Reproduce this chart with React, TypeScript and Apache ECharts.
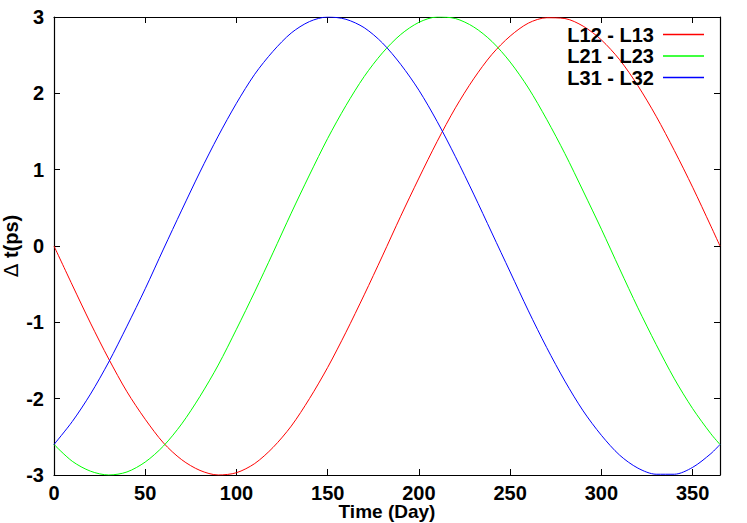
import React, { useEffect, useRef } from "react";
import * as echarts from "echarts";

const days = [0, 10, 20, 30, 40, 50, 60, 70, 80, 90, 100, 110, 120, 130, 140, 150, 160, 170, 180, 190, 200, 210, 220, 230, 240, 250, 260, 270, 280, 290, 300, 310, 320, 330, 340, 350, 360, 365];

const l12l13 = [0, -0.51, -1.01, -1.48, -1.91, -2.27, -2.58, -2.8, -2.94, -3.0, -2.97, -2.85, -2.64, -2.36, -2.0, -1.59, -1.13, -0.64, -0.13, 0.39, 0.89, 1.37, 1.81, 2.19, 2.51, 2.75, 2.92, 2.99, 2.98, 2.88, 2.7, 2.44, 2.1, 1.7, 1.25, 0.77, 0.26, 0];

const l21l23 = [-2.6, -2.82, -2.95, -3.0, -2.96, -2.83, -2.62, -2.33, -1.97, -1.56, -1.09, -0.6, -0.09, 0.43, 0.93, 1.41, 1.84, 2.22, 2.53, 2.77, 2.93, 3.0, 2.98, 2.87, 2.68, 2.41, 2.07, 1.66, 1.21, 0.72, 0.22, -0.3, -0.81, -1.29, -1.74, -2.13, -2.46, -2.6];

const l31l32 = [-2.6, -2.3, -1.94, -1.52, -1.05, -0.56, -0.04, 0.47, 0.97, 1.44, 1.87, 2.25, 2.55, 2.79, 2.94, 3.0, 2.97, 2.86, 2.66, 2.38, 2.04, 1.63, 1.17, 0.68, 0.17, -0.34, -0.85, -1.33, -1.77, -2.16, -2.48, -2.74, -2.91, -2.99, -2.99, -2.9, -2.72, -2.6];

const seriesNames = ["L12 - L13", "L21 - L23", "L31 - L32"];
const seriesColors = ["#ff0000", "#00ff00", "#0000ff"];

const FONT = "'Liberation Sans', Arial, Helvetica, sans-serif";

export default function App() {
  const ref = useRef<HTMLDivElement>(null);
  useEffect(() => {
    document.body.style.margin = "0";
    if (!ref.current) return;
    const chart = echarts.init(ref.current, undefined, { renderer: "svg" });
    const data = [l12l13, l21l23, l31l32];
    const tickStyle = { show: true, inside: true, length: 6, lineStyle: { color: "#000", width: 1 } };
    const lineStyle = { show: true, onZero: false, lineStyle: { color: "#000", width: 1.2 } };
    chart.setOption({
      animation: false,
      textStyle: { fontFamily: FONT },
      grid: { left: 54, top: 17, right: 27, bottom: 48, containLabel: false, outerBoundsMode: "none" },
      legend: {
        data: seriesNames.map((n) => ({ name: n, icon: "rect" })),
        orient: "vertical",
        right: 38,
        top: 19,
        align: "right",
        itemWidth: 41,
        itemHeight: 1.5,
        itemGap: 0.5,
        selectedMode: false,
        textStyle: { fontFamily: FONT, fontSize: 20, fontWeight: "bold", color: "#000", lineHeight: 21, padding: [0, 4, 0, 0] },
      },
      xAxis: [
        {
          type: "value",
          min: 0,
          max: 365,
          interval: 50,
          position: "bottom",
          axisLine: lineStyle,
          axisTick: tickStyle,
          splitLine: { show: false },
          axisLabel: { fontFamily: FONT, fontSize: 20, fontWeight: "bold", color: "#000", margin: 10, lineHeight: 15, showMaxLabel: false },
          name: "Time (Day)",
          nameLocation: "middle",
          nameMoveOverlap: false,
          nameGap: 28,
          nameTextStyle: { fontFamily: FONT, fontSize: 19, fontWeight: "bold", color: "#000", lineHeight: 17 },
        },
        {
          type: "value",
          min: 0,
          max: 365,
          interval: 50,
          position: "top",
          axisLine: lineStyle,
          axisTick: tickStyle,
          splitLine: { show: false },
          axisLabel: { show: false },
        },
      ],
      yAxis: [
        {
          type: "value",
          min: -3,
          max: 3,
          interval: 1,
          position: "left",
          axisLine: lineStyle,
          axisTick: tickStyle,
          splitLine: { show: false },
          axisLabel: { fontFamily: FONT, fontSize: 20, fontWeight: "bold", color: "#000", margin: 10 },
          name: "{d|\u0394} t(ps)",
          nameLocation: "middle",
          nameRotate: 90,
          nameMoveOverlap: false,
          nameGap: 33,
          nameTextStyle: {
            fontFamily: FONT,
            fontSize: 20,
            fontWeight: "bold",
            color: "#000",
            rich: { d: { fontFamily: "'DejaVu Sans', sans-serif", fontSize: 20, fontWeight: "normal", color: "#000" } },
          },
        },
        {
          type: "value",
          min: -3,
          max: 3,
          interval: 1,
          position: "right",
          axisLine: lineStyle,
          axisTick: tickStyle,
          splitLine: { show: false },
          axisLabel: { show: false },
        },
      ],
      series: seriesNames.map((name, i) => ({
        name,
        type: "line",
        xAxisIndex: 0,
        yAxisIndex: 0,
        data: days.map((d, j) => [d, data[i][j]]),
        smooth: 0.3,
        showSymbol: false,
        symbol: "none",
        color: seriesColors[i],
        lineStyle: { color: seriesColors[i], width: 1 },
      })),
    });
    return () => chart.dispose();
  }, []);
  return <div ref={ref} style={{ width: 747, height: 523 }} />;
}
